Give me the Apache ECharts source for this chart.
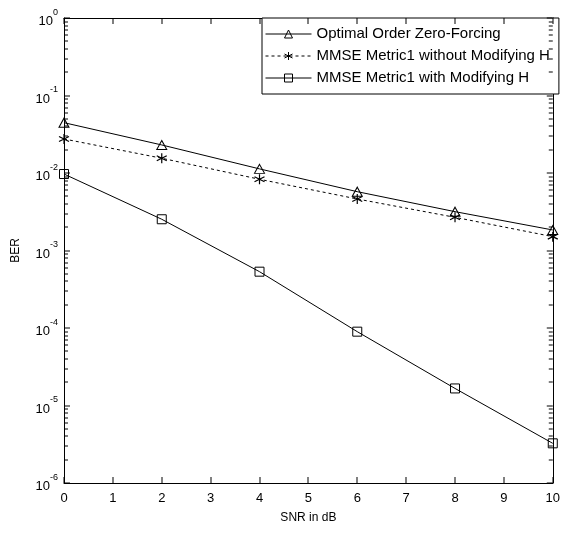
<!DOCTYPE html>
<html>
<head>
<meta charset="utf-8">
<script src="https://cdn.jsdelivr.net/npm/echarts@6/dist/echarts.min.js"></script>
<style>
html,body{margin:0;padding:0;background:#fff;}
#c{width:563px;height:534px;}
</style>
</head>
<body>
<div id="c"></div>
<script>
// ---- data ----
const snr = [0, 2, 4, 6, 8, 10];
const berZF = [0.0446, 0.0230, 0.0113, 0.00574, 0.00317, 0.00184];
const berMMSEnoMod = [0.0275, 0.0155, 0.0083, 0.00462, 0.00268, 0.00151];
const berMMSEmod = [0.0097, 0.00253, 0.000533, 0.0000897, 0.0000166, 0.00000325];
const seriesNames = ['Optimal Order Zero-Forcing', 'MMSE Metric1 without Modifying H', 'MMSE Metric1 with Modifying H'];
const xTicks = [0, 1, 2, 3, 4, 5, 6, 7, 8, 9, 10];
const yExponents = [0, -1, -2, -3, -4, -5, -6];
const minorMultipliers = [2, 3, 4, 5, 6, 7, 8, 9];

const FONT = 'Liberation Sans';
const starPath = 'path://M0,-5L0,5M-4.5,-2.5L4.5,2.5M-4.5,2.5L4.5,-2.5';

function pairs(ys) { return snr.map((x, i) => [x, ys[i]]); }

const xMin = xTicks[0], xMax = xTicks[xTicks.length - 1];
const eMin = Math.min.apply(null, yExponents), eMax = Math.max.apply(null, yExponents);

const chart = echarts.init(document.getElementById('c'), null, {renderer: 'canvas'});

const axisLineStyle = {color: '#000', width: 1};
const yLabelFmt = function (v) {
  const e = Math.round(Math.log10(v));
  if (yExponents.indexOf(e) < 0) return '';
  return '{b|10}{s|' + e + '}';
};

chart.setOption({
  backgroundColor: '#fff',
  animation: false,
  grid: {left: 64, right: 5, top: 18, bottom: 51, containLabel: false},
  xAxis: [{
    type: 'value', min: xMin, max: xMax, interval: 1, position: 'bottom',
    splitLine: {show: false},
    axisLine: {show: true, onZero: false, lineStyle: axisLineStyle},
    axisTick: {show: false},
    name: 'SNR in dB', nameLocation: 'middle', nameGap: 29,
    nameTextStyle: {color: '#000', fontFamily: FONT, fontSize: 12},
    axisLabel: {color: '#000', fontFamily: FONT, fontSize: 13, margin: 9,
      formatter: v => (xTicks.indexOf(v) >= 0 ? String(v) : '')}
  }, {
    type: 'value', min: xMin, max: xMax, interval: 1, position: 'top',
    splitLine: {show: false},
    axisLine: {show: true, onZero: false, lineStyle: axisLineStyle},
    axisTick: {show: false}, axisLabel: {show: false}
  }],
  yAxis: [{
    type: 'log', logBase: 10, min: Math.pow(10, eMin), max: Math.pow(10, eMax), position: 'left',
    splitLine: {show: false},
    axisLine: {show: true, onZero: false, lineStyle: axisLineStyle},
    axisTick: {show: false},
    name: 'BER', nameLocation: 'middle', nameGap: 42,
    nameTextStyle: {color: '#000', fontFamily: FONT, fontSize: 12},
    axisLabel: {
      color: '#000', margin: 6, formatter: yLabelFmt,
      rich: {
        b: {fontFamily: FONT, fontSize: 13, lineHeight: 20, verticalAlign: 'bottom', color: '#000'},
        s: {fontFamily: FONT, fontSize: 9, lineHeight: 20, verticalAlign: 'top', color: '#000'}
      }
    }
  }, {
    type: 'log', logBase: 10, min: Math.pow(10, eMin), max: Math.pow(10, eMax), position: 'right',
    splitLine: {show: false},
    axisLine: {show: true, onZero: false, lineStyle: axisLineStyle},
    axisTick: {show: false}, axisLabel: {show: false}
  }],
  legend: {
    orient: 'vertical',
    left: 262,
    top: 18,
    backgroundColor: '#fff',
    borderColor: '#000',
    borderWidth: 1,
    borderRadius: 0,
    padding: [8, 9, 8, 3],
    itemGap: 6,
    itemWidth: 46,
    itemHeight: 10,
    lineStyle: {width: 1},
    itemStyle: {borderWidth: 1},
    textStyle: {color: '#000', fontFamily: FONT, fontSize: 15, lineHeight: 16},
    data: seriesNames
  },
  series: [
    {
      name: seriesNames[0], type: 'line', data: pairs(berZF),
      symbol: 'triangle', symbolSize: [10, 9],
      lineStyle: {color: '#000', width: 1},
      itemStyle: {color: 'rgba(255,255,255,0)', borderColor: '#000', borderWidth: 1}
    },
    {
      name: seriesNames[1], type: 'line', data: pairs(berMMSEnoMod),
      symbol: starPath, symbolSize: 10,
      lineStyle: {color: '#000', width: 1, type: [3, 3]},
      itemStyle: {color: 'rgba(255,255,255,0)', borderColor: '#000', borderWidth: 1.2}
    },
    {
      name: seriesNames[2], type: 'line', data: pairs(berMMSEmod),
      symbol: 'rect', symbolSize: 9,
      lineStyle: {color: '#000', width: 1},
      itemStyle: {color: 'rgba(255,255,255,0)', borderColor: '#000', borderWidth: 1}
    }
  ]
});

// MATLAB-style inward ticks on all four sides, positioned through the chart's own scales
const MAJOR = 6, MINOR = 4;
const tickEls = [];
function bar(x, y, w, h) {
  tickEls.push({type: 'rect', silent: true, z: 100,
    shape: {x: x, y: y, width: w, height: h},
    style: {fill: '#000'}});
}
const finder = {xAxisIndex: 0, yAxisIndex: 0};
xTicks.forEach(x => {
  const pT = chart.convertToPixel(finder, [x, Math.pow(10, eMax)]);
  const pB = chart.convertToPixel(finder, [x, Math.pow(10, eMin)]);
  bar(Math.round(pT[0]) - 0.5, pT[1], 1, MAJOR);
  bar(Math.round(pB[0]) - 0.5, pB[1] - MAJOR, 1, MAJOR);
});
yExponents.forEach(e => {
  const v = Math.pow(10, e);
  const pL = chart.convertToPixel(finder, [xMin, v]);
  const pR = chart.convertToPixel(finder, [xMax, v]);
  bar(pL[0], Math.round(pL[1]) - 0.5, MAJOR, 1);
  bar(pR[0] - MAJOR, Math.round(pR[1]) - 0.5, MAJOR, 1);
  if (e < eMax) {
    minorMultipliers.forEach(m => {
      const mv = m * v;
      const qL = chart.convertToPixel(finder, [xMin, mv]);
      const qR = chart.convertToPixel(finder, [xMax, mv]);
      bar(qL[0], Math.round(qL[1]) - 0.5, MINOR, 1);
      bar(qR[0] - MINOR, Math.round(qR[1]) - 0.5, MINOR, 1);
    });
  }
});
chart.setOption({graphic: tickEls});
</script>
</body>
</html>
